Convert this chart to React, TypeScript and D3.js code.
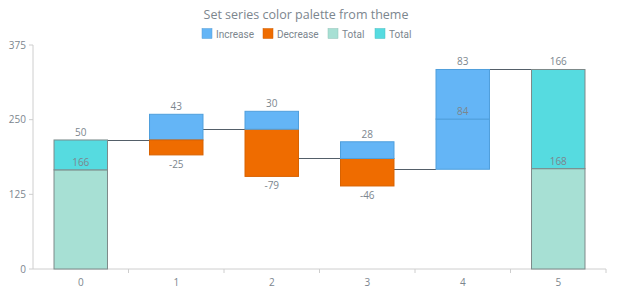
import React from "react";
import * as d3 from "d3";

const categories = ["0", "1", "2", "3", "4", "5"];
// series A and B; isTotal marks total points
const seriesA = [166, 43, -79, -46, 84, 168];
const seriesB = [50, -25, 30, 28, 83, 166];
const isTotal = [true, false, false, false, false, true];
const yTicks = [0, 125, 250, 375];
const legendItems = [
  { label: "Increase", color: "#64b5f6" },
  { label: "Decrease", color: "#ef6c00" },
  { label: "Total", color: "#a7e0d4" },
  { label: "Total", color: "#56dbe0" },
];

const W = 620, H = 300;
const M = { left: 33, right: 14, top: 45, bottom: 31 };
const FONT = "'Open Sans', sans-serif";
const TXT = "#7c868e";
const LEGEND_X = [202, 263, 328, 375];

export default function App() {
  const x = d3.scaleBand<string>().domain(categories).range([M.left, W - M.right]).paddingInner(0.44).paddingOuter(0.22);
  const y = d3.scaleLinear().domain([0, 375]).range([H - M.bottom, M.top]);
  const step = x.step();
  const x0 = M.left;

  type Seg = { key: string; lo: number; hi: number; color: string; stroke: string; label: string; labelTop: boolean };
  const segs: Seg[] = [];
  const levels: number[] = [];
  let prev = 0;
  categories.forEach((c, i) => {
    const vals = [seriesA[i], seriesB[i]];
    if (isTotal[i]) {
      let acc = 0;
      vals.forEach((v, s) => {
        segs.push({ key: c + s, lo: acc, hi: acc + v, color: legendItems[2 + s].color, stroke: "#7d8a8a", label: String(v), labelTop: true });
        acc += v;
      });
      prev = acc;
    } else {
      let up = prev, down = prev;
      vals.forEach((v, s) => {
        if (v >= 0) {
          segs.push({ key: c + s, lo: up, hi: up + v, color: legendItems[0].color, stroke: "#4f9fdc", label: String(v), labelTop: true });
          up += v;
        } else {
          segs.push({ key: c + s, lo: down + v, hi: down, color: legendItems[1].color, stroke: "#d86200", label: String(v), labelTop: false });
          down += v;
        }
      });
      prev = prev + vals[0] + vals[1];
    }
    levels.push(prev);
  });

  const catOf = (k: string) => k.slice(0, -1);
  const bw = x.bandwidth();

  return (
    <svg width={W} height={H} style={{ position: "absolute", left: 0, top: 0, fontFamily: FONT }}>
      <rect width={W} height={H} fill="#fff" />
      <text x={306} y={18.5} textAnchor="middle" fontSize={12.5} fill={TXT}>Set series color palette from theme</text>
      {legendItems.map((it, i) => (
        <g key={i} transform={`translate(${LEGEND_X[i]},28.5)`}>
          <rect width={10} height={10} fill={it.color} stroke={d3.color(it.color)!.darker(0.4).toString()} strokeWidth={0.5} />
          <text x={14} y={9} fontSize={10} fontFamily="Roboto, sans-serif" fill={TXT}>{it.label}</text>
        </g>
      ))}
      {/* axes */}
      <line x1={M.left} x2={M.left} y1={M.top} y2={H - M.bottom} stroke="#cecece" />
      <line x1={M.left} x2={W - M.right} y1={H - M.bottom} y2={H - M.bottom} stroke="#cecece" />
      {yTicks.map(t => (
        <g key={t}>
          <line x1={M.left - 4} x2={M.left} y1={y(t)} y2={y(t)} stroke="#cecece" />
          <text x={M.left - 7} y={y(t) + 3.5} textAnchor="end" fontSize={10} fill={TXT}>{t}</text>
        </g>
      ))}
      {categories.map((c, i) => (
        <g key={c}>
          <line x1={x0 + step * (i + 1)} x2={x0 + step * (i + 1)} y1={H - M.bottom} y2={H - M.bottom + 4} stroke="#cecece" />
          <text x={x(c)! + bw / 2} y={H - M.bottom + 17} textAnchor="middle" fontSize={10} fill={TXT}>{c}</text>
        </g>
      ))}
      {/* connectors */}
      {levels.slice(0, -1).map((lv, i) => (
        <line key={i} x1={x(categories[i])! + bw} x2={x(categories[i + 1])!} y1={Math.round(y(lv)) + 0.5} y2={Math.round(y(lv)) + 0.5} stroke="#545f69" strokeWidth={1} />
      ))}
      {segs.map(s => (
        <rect key={s.key} x={x(catOf(s.key))!} y={y(s.hi)} width={bw} height={y(s.lo) - y(s.hi)} fill={s.color} stroke={s.stroke} strokeWidth={1} />
      ))}
      {segs.map(s => (
        <text key={"l" + s.key} x={x(catOf(s.key))! + bw / 2} y={s.labelTop ? y(s.hi) - 4 : y(s.lo) + 13} textAnchor="middle" fontSize={10} fill={TXT}>{s.label}</text>
      ))}
    </svg>
  );
}
